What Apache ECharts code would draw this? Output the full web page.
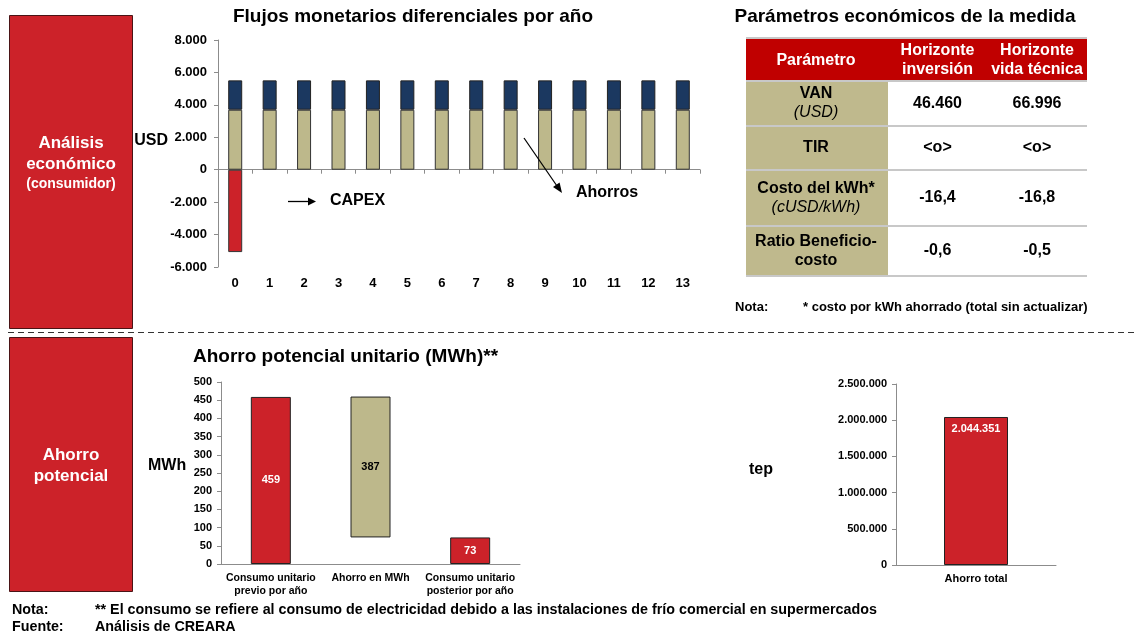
<!DOCTYPE html>
<html>
<head>
<meta charset="utf-8">
<script src="https://cdn.jsdelivr.net/npm/echarts@6/dist/echarts.min.js"></script>
<style>
html,body{margin:0;padding:0;background:#fff;}
#chart{width:1135px;height:633px;}
</style>
</head>
<body>
<div id="chart"></div>
<script>
// ---------- DATA ----------
const years = ['0','1','2','3','4','5','6','7','8','9','10','11','12','13'];
const savingsTan  = [3700,3700,3700,3700,3700,3700,3700,3700,3700,3700,3700,3700,3700,3700];
const savingsNavy = [1810,1810,1810,1810,1810,1810,1810,1810,1810,1810,1810,1810,1810,1810];
const capex = [-5080,null,null,null,null,null,null,null,null,null,null,null,null,null];

const unitCats = ['Consumo unitario\nprevio por año','Ahorro en MWh','Consumo unitario\nposterior por año'];
const unitValues = [459, 387, 73];

const totalCats = ['Ahorro total'];
const totalValues = [2044351];

const tableHeader = ['Parámetro','Horizonte\ninversión','Horizonte\nvida técnica'];
const paramNames = ['VAN','TIR','Costo del kWh*','Ratio Beneficio-\ncosto'];
const paramUnits = ['(USD)','','(cUSD/kWh)',''];
const horizonInversion = ['46.460','<o>','-16,4','-0,6'];
const horizonVida = ['66.996','<o>','-16,8','-0,5'];

// ---------- STYLE ----------
const FF = "'Liberation Sans', Arial, Helvetica, sans-serif";
const RED = '#CC2229', TAN = '#BDB88B', NAVY = '#1B3860', HEAD = '#C00000';
const AX = '#8c8c8c';

function fmt(v){
  const s = Math.round(Math.abs(v)).toString().replace(/\B(?=(\d{3})+(?!\d))/g,'.');
  return (v < 0 ? '-' : '') + s;
}
function txt(x, y, text, opt){
  opt = opt || {};
  const size = opt.size || 14;
  const weight = opt.weight || 'bold';
  const italic = opt.italic ? 'italic ' : '';
  return {
    type:'text', x:x, y:y, silent:true, z:100,
    style:{
      text:text, fill:opt.fill || '#000',
      font: italic + weight + ' ' + size + 'px ' + FF,
      textAlign: opt.align || 'left', align: opt.align || 'left',
      textVerticalAlign:'middle', verticalAlign:'middle',
      lineHeight: opt.lh || Math.round(size*1.2)
    }
  };
}

// ---------- GRAPHIC (boxes, table, notes) ----------
const g = [];
g.push({type:'rect', shape:{x:9.5,y:15.5,width:123,height:313}, style:{fill:RED, stroke:'#4a1416', lineWidth:1}, z:1});
g.push({type:'rect', shape:{x:9.5,y:337.5,width:123,height:254}, style:{fill:RED, stroke:'#4a1416', lineWidth:1}, z:1});
g.push(txt(71,143,'Análisis',{size:17,fill:'#fff',align:'center'}));
g.push(txt(71,164,'económico',{size:17,fill:'#fff',align:'center'}));
g.push(txt(71,184,'(consumidor)',{size:14,fill:'#fff',align:'center'}));
g.push(txt(71,455,'Ahorro',{size:17,fill:'#fff',align:'center'}));
g.push(txt(71,476,'potencial',{size:17,fill:'#fff',align:'center'}));
g.push({type:'line', shape:{x1:8,y1:332.5,x2:1135,y2:332.5}, style:{stroke:'#333', lineWidth:1, lineDash:[6,4]}, z:1});

// titles
g.push(txt(413,17,'Flujos monetarios diferenciales por año',{size:19,align:'center'}));
g.push(txt(905,17,'Parámetros económicos de la medida',{size:19,align:'center'}));
g.push(txt(193,357,'Ahorro potencial unitario (MWh)**',{size:19}));

// axis names / annotations
g.push(txt(168,141,'USD',{size:16,align:'right'}));
g.push(txt(148,466,'MWh',{size:16}));
g.push(txt(749,470,'tep',{size:16}));
g.push(txt(330,201,'CAPEX',{size:16}));
g.push(txt(576,193,'Ahorros',{size:16}));
g.push({type:'line', shape:{x1:288,y1:201.5,x2:310,y2:201.5}, style:{stroke:'#000', lineWidth:1.3}, z:100});
g.push({type:'polygon', shape:{points:[[316,201.5],[308,197.5],[308,205.5]]}, style:{fill:'#000'}, z:100});
g.push({type:'line', shape:{x1:524,y1:138,x2:557,y2:186}, style:{stroke:'#000', lineWidth:1.3}, z:100});
g.push({type:'polygon', shape:{points:[[562,193],[553,187.1],[559.6,182.5]]}, style:{fill:'#000'}, z:100});

// table
const tX = [746, 888, 987, 1087];
const rowY = [38, 81, 126, 170, 226, 276];
g.push({type:'rect', shape:{x:tX[0],y:rowY[0],width:tX[3]-tX[0],height:rowY[1]-rowY[0]}, style:{fill:HEAD}, z:2});
g.push({type:'rect', shape:{x:tX[0],y:rowY[1],width:tX[1]-tX[0],height:rowY[5]-rowY[1]}, style:{fill:'#BFB98D'}, z:2});
rowY.forEach(function(y){
  g.push({type:'line', shape:{x1:tX[0],y1:y,x2:tX[3],y2:y}, style:{stroke:'#C8C8C8', lineWidth:2}, z:3});
});
const colC = [(tX[0]+tX[1])/2 - 1, (tX[1]+tX[2])/2, (tX[2]+tX[3])/2];
tableHeader.forEach(function(h,i){
  g.push(txt(colC[i], (rowY[0]+rowY[1])/2 + 1, h, {size:16, fill:'#fff', align:'center', lh:19}));
});
paramNames.forEach(function(p,i){
  const mid = (rowY[i+1]+rowY[i+2])/2;
  if (paramUnits[i]) {
    g.push(txt(colC[0], mid-9.5, p, {size:16, align:'center'}));
    g.push(txt(colC[0], mid+9.5, paramUnits[i], {size:16, weight:'normal', italic:true, align:'center'}));
  } else {
    g.push(txt(colC[0], mid, p, {size:16, align:'center', lh:19}));
  }
  g.push(txt(colC[1], mid, horizonInversion[i], {size:16, align:'center'}));
  g.push(txt(colC[2], mid, horizonVida[i], {size:16, align:'center'}));
});
g.push(txt(735,307,'Nota:',{size:13}));
g.push(txt(803,307,'* costo por kWh ahorrado (total sin actualizar)',{size:13}));

// footer notes
g.push(txt(12,610,'Nota:',{size:14.3}));
g.push(txt(95,610,'** El consumo se refiere al consumo de electricidad debido a las instalaciones de frío comercial en supermercados',{size:14.3}));
g.push(txt(12,627,'Fuente:',{size:14.3}));
g.push(txt(95,627,'Análisis de CREARA',{size:14.3}));

// ---------- CHART ----------
const axisLbl = function(size){ return {color:'#000', fontWeight:'bold', fontSize:size, fontFamily:FF}; };
const chart = echarts.init(document.getElementById('chart'), null, {renderer:'canvas'});
const unitBase = [0, unitValues[2], 0];
const unitColors = [RED, TAN, RED];
const unitLabelColors = ['#fff', '#000', '#fff'];

chart.setOption({
  animation:false,
  backgroundColor:'#fff',
  textStyle:{fontFamily:FF},
  grid:[
    {left:218, top:40, width:482, height:227, containLabel:false, outerBoundsMode:'none'},
    {left:221, top:382, width:299, height:182, containLabel:false, outerBoundsMode:'none'},
    {left:896, top:384, width:160, height:181, containLabel:false, outerBoundsMode:'none'}
  ],
  xAxis:[
    {gridIndex:0, type:'category', data:years, position:'bottom',
     axisLine:{show:false, onZero:false}, axisTick:{show:false},
     axisLabel:Object.assign({margin:10, interval:0}, axisLbl(13))},
    {gridIndex:0, type:'category', data:years, position:'bottom',
     axisLine:{show:true, onZero:true, lineStyle:{color:AX}}, axisTick:{show:true, length:4, lineStyle:{color:AX}},
     axisLabel:{show:false}},
    {gridIndex:1, type:'category', data:unitCats,
     axisLine:{lineStyle:{color:AX}}, axisTick:{length:4, lineStyle:{color:AX}},
     axisLabel:Object.assign({margin:8, interval:0, lineHeight:13}, axisLbl(10.5))},
    {gridIndex:2, type:'category', data:totalCats,
     axisLine:{lineStyle:{color:AX}}, axisTick:{length:4, lineStyle:{color:AX}},
     axisLabel:Object.assign({margin:8}, axisLbl(11))}
  ],
  yAxis:[
    {gridIndex:0, type:'value', min:-6000, max:8000, interval:2000,
     axisLine:{show:true, lineStyle:{color:AX}}, axisTick:{show:true, length:4, lineStyle:{color:AX}},
     splitLine:{show:false}, axisLabel:Object.assign({margin:11, formatter:fmt}, axisLbl(13))},
    {gridIndex:1, type:'value', min:0, max:500, interval:50,
     axisLine:{show:true, lineStyle:{color:AX}}, axisTick:{show:true, length:4, lineStyle:{color:AX}},
     splitLine:{show:false}, axisLabel:Object.assign({margin:9}, axisLbl(11))},
    {gridIndex:2, type:'value', min:0, max:2500000, interval:500000,
     axisLine:{show:true, lineStyle:{color:AX}}, axisTick:{show:true, length:4, lineStyle:{color:AX}},
     splitLine:{show:false}, axisLabel:Object.assign({margin:9, formatter:fmt}, axisLbl(11))}
  ],
  series:[
    {type:'bar', xAxisIndex:0, yAxisIndex:0, stack:'flow', barWidth:14, data:savingsTan,
     itemStyle:{color:TAN, borderColor:'#333', borderWidth:1}},
    {type:'bar', xAxisIndex:0, yAxisIndex:0, stack:'flow', barWidth:14, data:savingsNavy,
     itemStyle:{color:NAVY, borderColor:'#222', borderWidth:1}},
    {type:'bar', xAxisIndex:0, yAxisIndex:0, stack:'flow', barWidth:14, data:capex,
     itemStyle:{color:RED, borderColor:'#333', borderWidth:1}},
    {type:'bar', xAxisIndex:2, yAxisIndex:1, stack:'unit', barWidth:40, data:unitBase, silent:true,
     itemStyle:{color:'rgba(0,0,0,0)', borderWidth:0}},
    {type:'bar', xAxisIndex:2, yAxisIndex:1, stack:'unit', barWidth:40,
     data:unitValues.map(function(v,i){
       return {value:v, itemStyle:{color:unitColors[i]}, label:{color:unitLabelColors[i]}};
     }),
     itemStyle:{borderColor:'#222', borderWidth:1},
     label:{show:true, position:'inside', fontWeight:'bold', fontSize:11, fontFamily:FF}},
    {type:'bar', xAxisIndex:3, yAxisIndex:2, barWidth:64, data:totalValues,
     itemStyle:{color:RED, borderColor:'#222', borderWidth:1},
     label:{show:true, position:'insideTop', distance:6, color:'#fff', fontWeight:'bold', fontSize:11, fontFamily:FF,
            formatter:function(p){return fmt(p.value);}}}
  ],
  graphic:g
});
</script>
</body>
</html>
